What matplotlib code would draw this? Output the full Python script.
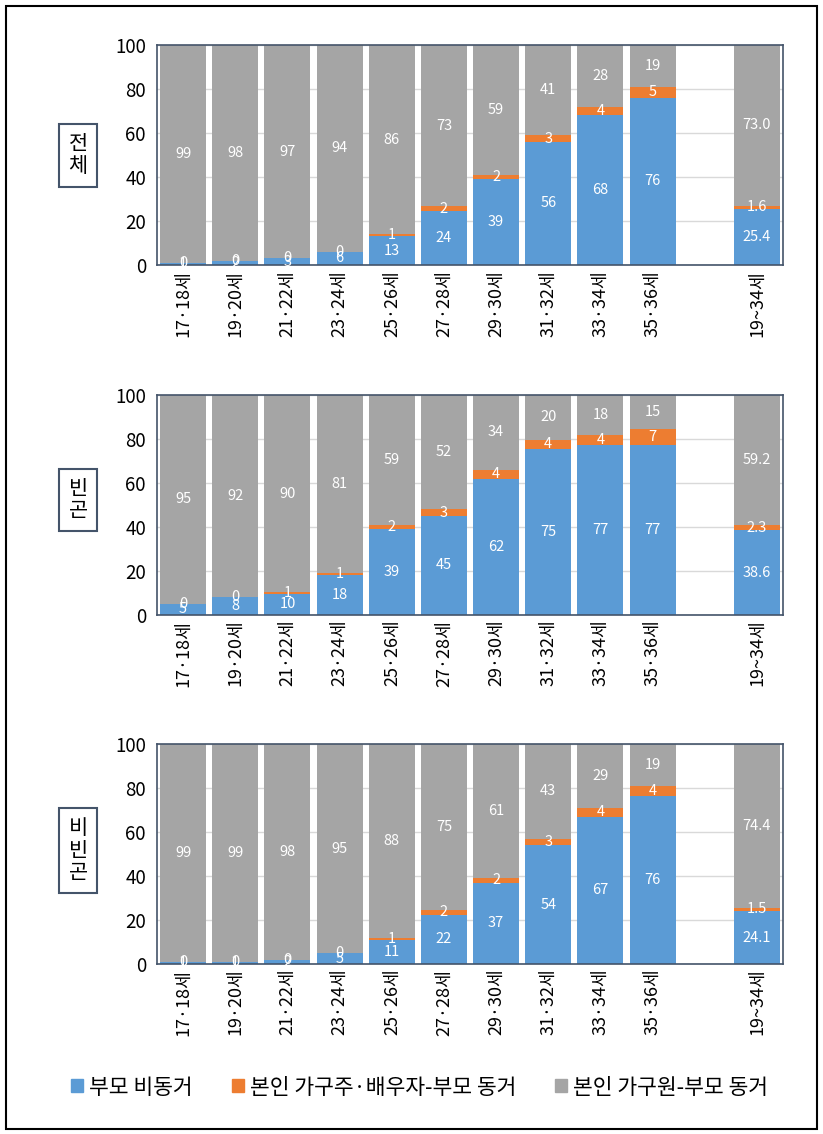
import matplotlib.pyplot as plt
from matplotlib.patches import Rectangle, Patch
import numpy as np

plt.rcParams['font.family'] = ['Noto Sans CJK KR', 'DejaVu Sans']

ages = ['17·18세', '19·20세', '21·22세', '23·24세', '25·26세', '27·28세',
        '29·30세', '31·32세', '33·34세', '35·36세', '', '19~34세']

# 전체 (values estimated, labels are rounded)
tot_blue = [1, 2, 3, 6, 13, 24.4, 39, 56, 68, 76, None, 25.4]
tot_orange = [0, 0, 0, 0, 1, 2.3, 2, 3, 4, 5, None, 1.6]
tot_gray = [99, 98, 97, 94, 86, 73.3, 59, 41, 28, 19, None, 73.0]
# 빈곤
pov_blue = [5, 8, 9.6, 18, 39, 45, 62, 75.4, 77.4, 77.3, None, 38.6]
pov_orange = [0, 0, 0.8, 1, 2, 3, 4, 4.3, 4.3, 7.4, None, 2.3]
pov_gray = [95, 92, 89.6, 81, 59, 52, 34, 20.3, 18.3, 15.3, None, 59.2]
# 비빈곤
non_blue = [1, 1, 2, 5, 11, 22.4, 37, 54, 67, 76.4, None, 24.1]
non_orange = [0, 0, 0, 0, 1, 2.3, 2, 3, 4, 4.3, None, 1.5]
non_gray = [99, 99, 98, 95, 88, 75.3, 61, 43, 29, 19.3, None, 74.4]

panels = [('전\n체', tot_blue, tot_orange, tot_gray),
          ('빈\n곤', pov_blue, pov_orange, pov_gray),
          ('비\n빈\n곤', non_blue, non_orange, non_gray)]
series_names = ['부모 비동거', '본인 가구주·배우자-부모 동거', '본인 가구원-부모 동거']
colors = ['#5B9BD5', '#ED7D31', '#A5A5A5']
frame = '#44546A'

fig = plt.figure(figsize=(8.23, 11.34), dpi=100)
fig.patches.append(Rectangle((0.007, 0.004), 0.986, 0.991, transform=fig.transFigure,
                             fill=False, edgecolor='black', linewidth=1.5))

tops = [0.9603, 0.6517, 0.3439]
label_y = [0.863, 0.559, 0.25]
for (name, blue, orange, gray), top, ly in zip(panels, tops, label_y):
    ax = fig.add_axes([0.1908, top - 0.194, 0.7606, 0.194])
    x = np.arange(len(ages))
    idx = [i for i in x if blue[i] is not None]
    b = np.array([blue[i] for i in idx], dtype=float)
    o = np.array([orange[i] for i in idx], dtype=float)
    g = np.array([gray[i] for i in idx], dtype=float)
    ax.bar(idx, b, width=0.88, color=colors[0], zorder=2)
    ax.bar(idx, o, width=0.88, bottom=b, color=colors[1], zorder=2)
    ax.bar(idx, g, width=0.88, bottom=b + o, color=colors[2], zorder=2)
    for k, i in enumerate(idx):
        fmt = '{:.1f}' if i == 11 else '{:.0f}'
        for val, base in ((b[k], 0), (o[k], b[k]), (g[k], b[k] + o[k])):
            ax.text(i, base + val / 2, fmt.format(val), ha='center', va='center',
                    color='white', fontsize=10.5, zorder=3)
    ax.set_xlim(-0.5, 11.5)
    ax.set_ylim(0, 100)
    ax.set_yticks([0, 20, 40, 60, 80, 100])
    ax.yaxis.grid(True, color='#D9D9D9', linewidth=1, zorder=0)
    ax.set_xticks(x)
    ax.set_xticklabels(ages, rotation=90, fontsize=13)
    ax.tick_params(axis='both', length=0)
    ax.tick_params(axis='y', labelsize=13.5, pad=8)
    for s in ax.spines.values():
        s.set_color(frame)
        s.set_linewidth(1.2)
    fig.text(0.095, ly, name, ha='center', va='center', fontsize=15, linespacing=1.0,
             bbox=dict(boxstyle='square,pad=0.45', facecolor='white', edgecolor=frame, linewidth=1.5))

handles = [Patch(color=c) for c in colors]
fig.legend(handles, series_names, loc='center', bbox_to_anchor=(0.51, 0.041), ncol=3,
           frameon=False, fontsize=15.5, handlelength=0.55, handleheight=0.55,
           handletextpad=0.3, columnspacing=1.8)

fig.savefig('out.png', dpi=100)
